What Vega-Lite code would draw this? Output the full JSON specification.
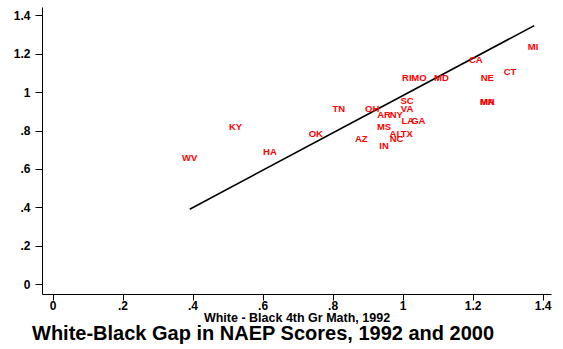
{
  "$schema": "https://vega.github.io/schema/vega-lite/v6.json",
  "autosize": "none",
  "width": 509,
  "height": 287,
  "padding": {"left": 42, "top": 7, "right": 12, "bottom": 55},
  "background": "white",
  "config": {
    "view": {"stroke": null},
    "font": "Liberation Sans",
    "axis": {
      "grid": false,
      "domainColor": "black",
      "domainWidth": 1,
      "tickColor": "black",
      "tickWidth": 1,
      "labelColor": "black",
      "labelFont": "Liberation Sans",
      "labelFontWeight": "bold",
      "labelFontSize": 12,
      "titleFont": "Liberation Sans",
      "titleFontWeight": "bold",
      "titleColor": "black"
    }
  },
  "title": {
    "text": "White-Black Gap in NAEP Scores, 1992 and 2000",
    "orient": "bottom",
    "anchor": "start",
    "frame": "group",
    "dx": -10,
    "offset": 0,
    "font": "Liberation Sans",
    "fontWeight": "bold",
    "fontSize": 20,
    "color": "black"
  },
  "datasets": {
    "states": [
      {"state": "WV", "x": 0.392, "y": 0.655},
      {"state": "KY", "x": 0.523, "y": 0.817},
      {"state": "HA", "x": 0.621, "y": 0.689},
      {"state": "OK", "x": 0.752, "y": 0.784},
      {"state": "TN", "x": 0.818, "y": 0.914},
      {"state": "AZ", "x": 0.882, "y": 0.756},
      {"state": "OH", "x": 0.913, "y": 0.914},
      {"state": "AR", "x": 0.947, "y": 0.883},
      {"state": "NY", "x": 0.982, "y": 0.883},
      {"state": "SC", "x": 1.013, "y": 0.952},
      {"state": "VA", "x": 1.013, "y": 0.914},
      {"state": "LA", "x": 1.015, "y": 0.848},
      {"state": "GA", "x": 1.045, "y": 0.848},
      {"state": "MS", "x": 0.947, "y": 0.816},
      {"state": "AL", "x": 0.981, "y": 0.784},
      {"state": "TX", "x": 1.012, "y": 0.784},
      {"state": "NC", "x": 0.983, "y": 0.757},
      {"state": "IN", "x": 0.947, "y": 0.722},
      {"state": "RI", "x": 1.012, "y": 1.075},
      {"state": "MO", "x": 1.047, "y": 1.075},
      {"state": "MD", "x": 1.111, "y": 1.075},
      {"state": "NE", "x": 1.242, "y": 1.075},
      {"state": "CA", "x": 1.209, "y": 1.169},
      {"state": "CT", "x": 1.307, "y": 1.106},
      {"state": "MI", "x": 1.373, "y": 1.233},
      {"state": "MA", "x": 1.242, "y": 0.947},
      {"state": "MN", "x": 1.242, "y": 0.947}
    ],
    "fit": [
      {"x": 0.392, "y": 0.39},
      {"x": 1.376, "y": 1.347}
    ]
  },
  "layer": [
    {
      "data": {"name": "fit"},
      "mark": {"type": "line", "color": "black", "strokeWidth": 1.6},
      "encoding": {
        "x": {
          "field": "x", "type": "quantitative",
          "scale": {"domain": [-0.03, 1.424], "nice": false, "zero": false},
          "axis": {
            "values": [0, 0.2, 0.4, 0.6, 0.8, 1, 1.2, 1.4],
            "labelExpr": "replace(format(datum.value, '.1~f'), '0.', '.')",
            "tickSize": 6,
            "labelPadding": 0,
            "title": "White - Black 4th Gr Math, 1992",
            "titleFontSize": 12.5,
            "titlePadding": 0
          }
        },
        "y": {
          "field": "y", "type": "quantitative",
          "scale": {"domain": [-0.052, 1.444], "nice": false, "zero": false},
          "axis": {
            "values": [0, 0.2, 0.4, 0.6, 0.8, 1, 1.2, 1.4],
            "labelExpr": "replace(format(datum.value, '.1~f'), '0.', '.')",
            "tickSize": 7,
            "labelPadding": 5,
            "title": null
          }
        }
      }
    },
    {
      "data": {"name": "states"},
      "mark": {
        "type": "text",
        "color": "#ff0000",
        "font": "Liberation Sans",
        "fontWeight": "bold",
        "fontSize": 9.5,
        "align": "center",
        "baseline": "middle"
      },
      "encoding": {
        "x": {"field": "x", "type": "quantitative"},
        "y": {"field": "y", "type": "quantitative"},
        "text": {"field": "state"}
      }
    }
  ]
}
